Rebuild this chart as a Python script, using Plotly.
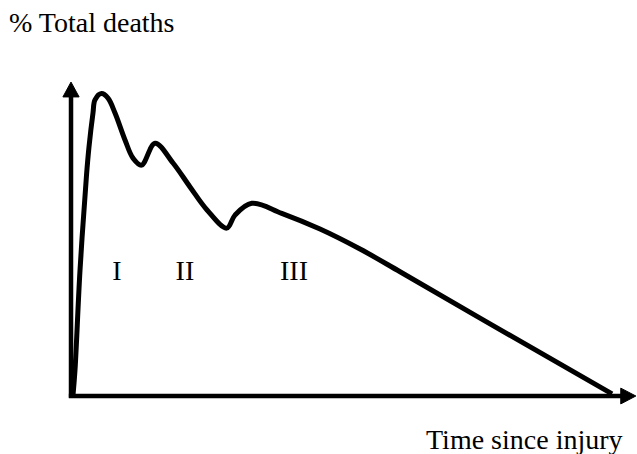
import plotly.graph_objects as go

# Trimodal distribution of trauma deaths (schematic)
time_since_injury = [0.37, 0.74, 1.67, 2.87, 3.33, 4.07, 4.44, 5.65, 6.85, 8.15, 10.0,
                     11.48, 13.06, 15.56, 18.89, 22.04, 25.19, 28.83, 30.37, 33.46,
                     39.02, 46.11, 53.52, 60.93, 77.59, 100.19]
pct_total_deaths = [0.3, 8.6, 41.6, 72.9, 82.2, 93.4, 97.7, 99.8, 98.3, 93.4, 84.5,
                    78.5, 76.2, 83.4, 76.9, 69.0, 61.4, 55.4, 59.7, 63.6,
                    60.3, 55.1, 48.5, 41.0, 23.8, 0.7]

peak_labels = ["I", "II", "III"]
peak_label_x = [8.5, 21.1, 41.3]
peak_label_y = [40.6, 40.6, 40.6]

y_axis_label = "% Total deaths"
x_axis_label = "Time since injury"

FONT = "Liberation Serif, Times New Roman, serif"

fig = go.Figure()
fig.add_trace(go.Scatter(
    x=time_since_injury, y=pct_total_deaths, mode="lines",
    line=dict(color="black", width=5, shape="spline", smoothing=1.0),
    hoverinfo="skip", showlegend=False,
))

fig.add_trace(go.Scatter(
    x=peak_label_x, y=peak_label_y, mode="text", text=peak_labels,
    textfont=dict(family=FONT, size=28, color="black"),
    textposition="middle center", hoverinfo="skip", showlegend=False,
))

# axis lines
fig.add_shape(type="line", x0=0, y0=-0.6, x1=0, y1=99.3,
              line=dict(color="black", width=4.5))
fig.add_shape(type="line", x0=-0.4, y0=0, x1=102.0, y1=0,
              line=dict(color="black", width=4.5))
# arrow heads
fig.add_shape(type="path", path="M -1.5,98.7 L 1.5,98.7 L 0,103.6 Z",
              fillcolor="black", line=dict(color="black", width=1))
fig.add_shape(type="path", path="M 101.8,-2.6 L 101.8,2.6 L 104.6,0 Z",
              fillcolor="black", line=dict(color="black", width=1))

W, H = 637, 454
fig.add_annotation(text=y_axis_label, xref="paper", yref="paper",
                   x=7 / W, y=1 - 22 / H, xanchor="left", yanchor="middle",
                   showarrow=False, font=dict(family=FONT, size=28, color="black"))
fig.add_annotation(text=x_axis_label, xref="paper", yref="paper",
                   x=625 / W, y=1 - 439 / H, xanchor="right", yanchor="middle",
                   showarrow=False, font=dict(family=FONT, size=28, color="black"))

fig.update_layout(
    width=W, height=H,
    margin=dict(l=0, r=0, t=0, b=0),
    paper_bgcolor="white", plot_bgcolor="white",
    xaxis=dict(range=[-13.15, 104.81], visible=False, fixedrange=True),
    yaxis=dict(range=[-19.14, 130.69], visible=False, fixedrange=True),
)

fig.write_html("out.html", config={"displayModeBar": False},
               post_script="document.body.style.margin='0px';document.body.style.overflow='hidden';")
